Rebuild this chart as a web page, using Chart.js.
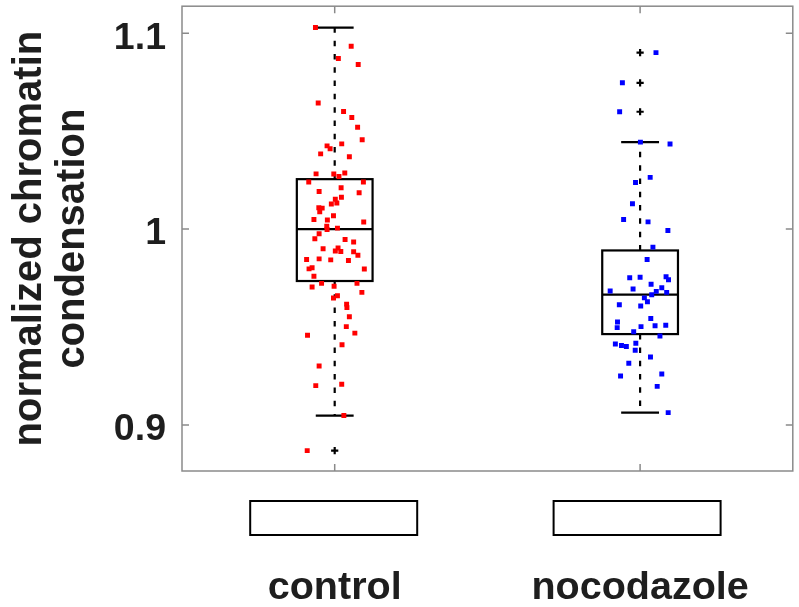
<!DOCTYPE html>
<html><head><meta charset="utf-8">
<script src="https://cdn.jsdelivr.net/npm/chart.js@4"></script>
<style>html,body{margin:0;padding:0;background:#fff}canvas{display:block}</style>
</head><body>
<canvas id="c" width="799" height="607"></canvas>
<script>
// Groups and y-axis ticks
const categories = ['control', 'nocodazole'];
const yTickValues = [0.9, 1.0, 1.1];
const yTickLabels = ['0.9', '1', '1.1'];

// Per-cell measurements, with horizontal jitter (in category units) for the strip plot
const controlValues = [
  1.1029, 1.0934, 1.0871, 1.0840, 1.0644, 1.0600, 1.0570, 1.0520, 1.0456, 1.0435,
  1.0425, 1.0410, 1.0384, 1.0369, 1.0282, 1.0281, 1.0269, 1.0286, 1.0240, 1.0240,
  1.0192, 1.0211, 1.0186, 1.0163, 1.0152, 1.0133, 1.0128, 1.0109, 1.0107, 1.0088,
  1.0068, 1.0049, 1.0046, 1.0036, 1.0015, 1.0005, 0.9998, 0.9976, 0.9951, 0.9947,
  0.9934, 0.9900, 0.9903, 0.9888, 0.9886, 0.9884, 0.9866, 0.9845, 0.9848, 0.9843,
  0.9840, 0.9797, 0.9803, 0.9796, 0.9759, 0.9704, 0.9723, 0.9708, 0.9723, 0.9677,
  0.9648, 0.9660, 0.9617, 0.9599, 0.9553, 0.9502, 0.9469, 0.9458, 0.9410, 0.9301,
  0.9208, 0.9201, 0.9048, 0.8869
];
const controlJitter = [
  -0.063, 0.054, 0.012, 0.077, -0.054, 0.029, 0.056, 0.075, 0.090, 0.023,
  -0.025, -0.015, -0.046, 0.048, -0.061, -0.003, 0.014, 0.033, -0.085, 0.094,
  -0.051, 0.021, 0.080, 0.022, 0.002, 0.007, -0.011, -0.052, -0.041, -0.049,
  -0.004, -0.068, -0.024, 0.095, -0.026, 0.009, -0.025, -0.051, -0.065, 0.034,
  0.062, -0.038, 0.011, 0.002, 0.020, 0.062, 0.076, -0.092, -0.051, -0.013,
  0.045, -0.084, -0.074, 0.097, -0.068, -0.074, -0.043, -0.002, 0.073, 0.089,
  -0.004, 0.009, 0.039, 0.040, 0.048, 0.038, 0.066, -0.089, 0.024, -0.051,
  0.023, -0.062, 0.030, -0.090
];
const nocodazoleValues = [
  1.0901, 1.0747, 1.0599, 1.0444, 1.0434, 1.0264, 1.0238, 1.0129, 1.0049, 1.0037,
  0.9993, 0.9908, 0.9845, 0.9752, 0.9754, 0.9757, 0.9741, 0.9718, 0.9694, 0.9701,
  0.9682, 0.9684, 0.9677, 0.9665, 0.9649, 0.9629, 0.9614, 0.9607, 0.9544, 0.9526,
  0.9497, 0.9502, 0.9507, 0.9509, 0.9476, 0.9454, 0.9413, 0.9406, 0.9401, 0.9417,
  0.9381, 0.9347, 0.9315, 0.9250, 0.9260, 0.9197, 0.9063
];
const nocodazoleJitter = [
  0.052, -0.058, -0.067, 0.001, 0.098, 0.033, -0.015, -0.025, -0.054, 0.026,
  0.091, 0.042, 0.023, -0.034, 0.000, 0.085, 0.093, 0.036, -0.023, 0.071,
  0.053, -0.098, 0.087, 0.038, 0.014, 0.024, -0.068, 0.002, 0.035, -0.074,
  -0.075, 0.003, 0.049, 0.084, -0.021, 0.065, -0.081, -0.061, -0.045, -0.014,
  -0.016, 0.034, -0.037, -0.064, 0.071, 0.056, 0.092
];

// Box statistics per group
const whiskerLow  = [0.9048, 0.9063];
const quartile1   = [0.9735, 0.9464];
const medians     = [1.0000, 0.9665];
const quartile3   = [1.0255, 0.9891];
const whiskerHigh = [1.1029, 1.0444];
const controlOutliers = [0.8869];
const nocodazoleOutliers = [1.0901, 1.0747, 1.0599];

const FRAME = '#8a8a8a';
const TEXT = '#1e1e1e';
const BOX_HALF = 0.124;   // half box width, category units
const CAP_HALF = 0.062;   // half whisker-cap width

const toPoints = (vals, jit, c) => vals.map((v, i) => ({ x: c + jit[i], y: v }));

const boxPlugin = {
  id: 'boxes',
  beforeDatasetsDraw(chart) {
    const { ctx } = chart;
    const xs = chart.scales.x, ys = chart.scales.y;
    ctx.save();
    ctx.strokeStyle = '#000';
    categories.forEach((_, i) => {
      const c = i + 1;
      const xl = xs.getPixelForValue(c - BOX_HALF), xr = xs.getPixelForValue(c + BOX_HALF);
      const xc = xs.getPixelForValue(c);
      const cl = xs.getPixelForValue(c - CAP_HALF), cr = xs.getPixelForValue(c + CAP_HALF);
      const yq1 = ys.getPixelForValue(quartile1[i]), yq3 = ys.getPixelForValue(quartile3[i]);
      const ym = ys.getPixelForValue(medians[i]);
      const ylo = ys.getPixelForValue(whiskerLow[i]), yhi = ys.getPixelForValue(whiskerHigh[i]);
      // dashed whiskers
      ctx.lineWidth = 2.2;
      ctx.setLineDash([5.5, 7.8]);
      ctx.beginPath();
      ctx.moveTo(xc, yq3); ctx.lineTo(xc, yhi);
      ctx.moveTo(xc, yq1); ctx.lineTo(xc, ylo);
      ctx.stroke();
      ctx.setLineDash([]);
      // caps
      ctx.beginPath();
      ctx.moveTo(cl, yhi); ctx.lineTo(cr, yhi);
      ctx.moveTo(cl, ylo); ctx.lineTo(cr, ylo);
      ctx.stroke();
      // box and median
      ctx.strokeRect(xl, yq3, xr - xl, yq1 - yq3);
      ctx.beginPath();
      ctx.moveTo(xl, ym); ctx.lineTo(xr, ym);
      ctx.stroke();
    });
    ctx.restore();
  }
};

const framePlugin = {
  id: 'frame',
  afterDraw(chart) {
    const { ctx, chartArea: a } = chart;
    const xs = chart.scales.x, ys = chart.scales.y;
    ctx.save();
    ctx.strokeStyle = FRAME;
    ctx.lineWidth = 1.5;
    ctx.strokeRect(a.left, a.top, a.right - a.left, a.bottom - a.top);
    const tl = 7;
    ctx.beginPath();
    yTickValues.forEach(v => {
      const y = ys.getPixelForValue(v);
      ctx.moveTo(a.left, y); ctx.lineTo(a.left + tl, y);
      ctx.moveTo(a.right, y); ctx.lineTo(a.right - tl, y);
    });
    categories.forEach((_, i) => {
      const x = xs.getPixelForValue(i + 1);
      ctx.moveTo(x, a.bottom); ctx.lineTo(x, a.bottom - tl);
      ctx.moveTo(x, a.top); ctx.lineTo(x, a.top + tl);
    });
    ctx.stroke();
    // empty key boxes under each group
    ctx.strokeStyle = '#000';
    ctx.lineWidth = 2;
    categories.forEach((_, i) => {
      const x = xs.getPixelForValue(i + 1) - 1 - 2 * i;
      ctx.strokeRect(x - 83.5, 501, 167, 34);
    });
    ctx.restore();
  }
};

new Chart(document.getElementById('c'), {
  type: 'scatter',
  data: {
    datasets: [
      {
        label: 'outliers',
        data: [...controlOutliers.map(v => ({ x: 1, y: v })), ...nocodazoleOutliers.map(v => ({ x: 2, y: v }))],
        pointStyle: 'cross', pointRadius: 3.6, borderColor: '#000', borderWidth: 2.2, backgroundColor: '#000'
      },
      {
        label: categories[0],
        data: toPoints(controlValues, controlJitter, 1),
        pointStyle: 'rect', pointRadius: 3.5, backgroundColor: '#ff0000', borderWidth: 0
      },
      {
        label: categories[1],
        data: toPoints(nocodazoleValues, nocodazoleJitter, 2),
        pointStyle: 'rect', pointRadius: 3.5, backgroundColor: '#0000ff', borderWidth: 0
      }
    ]
  },
  options: {
    responsive: false,
    animation: false,
    events: [],
    layout: { padding: { left: 0, right: 3, top: 6, bottom: 0 } },
    plugins: { legend: { display: false }, tooltip: { enabled: false } },
    scales: {
      x: {
        type: 'linear', min: 0.5, max: 2.5,
        grid: { display: false, drawTicks: false }, border: { display: false },
        afterBuildTicks: s => { s.ticks = categories.map((_, i) => ({ value: i + 1 })); },
        afterFit: s => { s.height = 136; s.paddingLeft = 0; s.paddingRight = 0; },
        ticks: {
          autoSkip: false, maxRotation: 0, padding: 93, color: TEXT,
          font: { family: 'Liberation Sans, Arial, sans-serif', size: 39.5, weight: 'bold' },
          callback: v => categories[Math.round(v) - 1]
        }
      },
      y: {
        min: 0.8765, max: 1.1138,
        grid: { display: false, drawTicks: false }, border: { display: false },
        afterBuildTicks: s => { s.ticks = yTickValues.map(v => ({ value: v })); },
        afterFit: s => { s.width = 182; s.paddingTop = 0; s.paddingBottom = 0; },
        ticks: {
          padding: 16, labelOffset: 5, color: TEXT,
          font: { family: 'Liberation Sans, Arial, sans-serif', size: 37.5, weight: 'bold' },
          callback: (v, i) => yTickLabels[i]
        },
        title: {
          display: true, text: ['normalized chromatin', 'condensation'], color: TEXT,
          padding: { top: 8, bottom: 0 },
          font: { family: 'Liberation Sans, Arial, sans-serif', size: 40, weight: 'bold', lineHeight: 1.08 }
        }
      }
    }
  },
  plugins: [boxPlugin, framePlugin]
});
</script>
</body></html>
